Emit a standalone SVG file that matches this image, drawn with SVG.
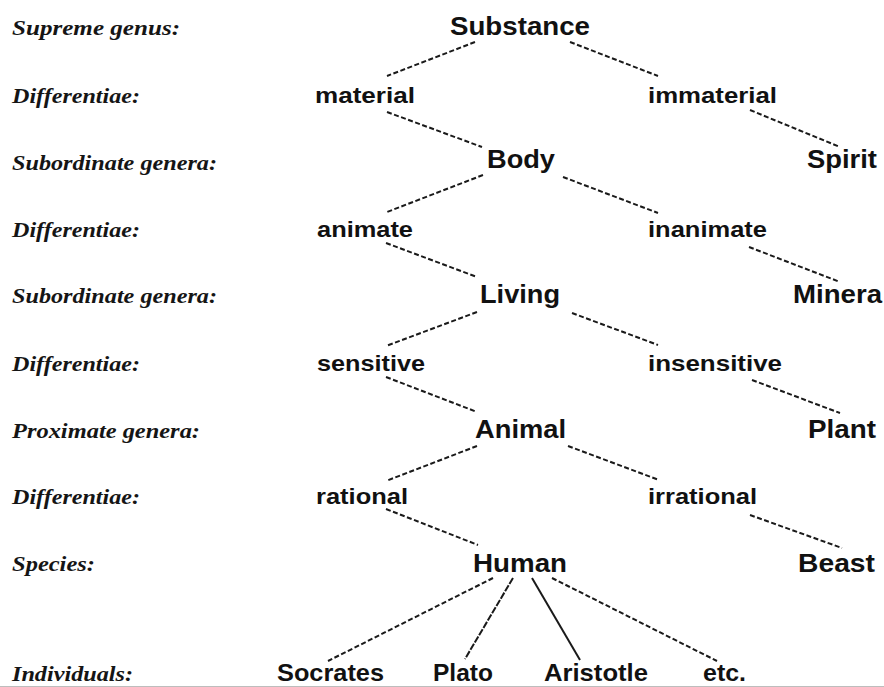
<svg xmlns="http://www.w3.org/2000/svg" width="884" height="687" viewBox="0 0 884 687">
<style>
  .lbl { font-family: "Liberation Serif", "Times New Roman", serif; font-style: italic; font-weight: bold; font-size: 22px; fill: #151515; }
  .gen { font-family: "Liberation Sans", Arial, sans-serif; font-weight: bold; font-size: 26px; fill: #111; }
  .dif { font-family: "Liberation Sans", Arial, sans-serif; font-weight: bold; font-size: 22px; fill: #111; }
  .ind { font-family: "Liberation Sans", Arial, sans-serif; font-weight: bold; font-size: 24px; fill: #111; }
  .edge { stroke: #1a1a1a; stroke-width: 2; fill: none; stroke-dasharray: 5 2.5; }
  .tight { stroke-dasharray: 7 1.5; }
  .solid { stroke-dasharray: none; }
</style>
<rect x="0" y="0" width="884" height="687" fill="#ffffff"/>
<line x1="0" y1="686.5" x2="884" y2="686.5" stroke="#bdbdbd" stroke-width="1"/>

<g id="levels">
  <text class="lbl" x="12" y="35" textLength="168" lengthAdjust="spacingAndGlyphs">Supreme genus:</text>
  <text class="lbl" x="12" y="103" textLength="128" lengthAdjust="spacingAndGlyphs">Differentiae:</text>
  <text class="lbl" x="12" y="170" textLength="205" lengthAdjust="spacingAndGlyphs">Subordinate genera:</text>
  <text class="lbl" x="12" y="237" textLength="128" lengthAdjust="spacingAndGlyphs">Differentiae:</text>
  <text class="lbl" x="12" y="303" textLength="205" lengthAdjust="spacingAndGlyphs">Subordinate genera:</text>
  <text class="lbl" x="12" y="371" textLength="128" lengthAdjust="spacingAndGlyphs">Differentiae:</text>
  <text class="lbl" x="12" y="438" textLength="188" lengthAdjust="spacingAndGlyphs">Proximate genera:</text>
  <text class="lbl" x="12" y="504" textLength="128" lengthAdjust="spacingAndGlyphs">Differentiae:</text>
  <text class="lbl" x="12" y="571" textLength="83" lengthAdjust="spacingAndGlyphs">Species:</text>
  <text class="lbl" x="12" y="681" textLength="121" lengthAdjust="spacingAndGlyphs">Individuals:</text>
</g>

<g id="connectors">
  <line class="edge" x1="475" y1="42" x2="387" y2="76"/>
  <line class="edge" x1="570" y1="42" x2="658" y2="76"/>
  <line class="edge" x1="387" y1="112" x2="482" y2="147"/>
  <line class="edge" x1="750" y1="110" x2="840" y2="147"/>
  <line class="edge" x1="483" y1="175" x2="387" y2="212"/>
  <line class="edge" x1="563" y1="177" x2="658" y2="213"/>
  <line class="edge" x1="386" y1="243" x2="477" y2="277"/>
  <line class="edge" x1="749" y1="247" x2="840" y2="282"/>
  <line class="edge" x1="477" y1="312" x2="386" y2="346"/>
  <line class="edge" x1="572" y1="313" x2="658" y2="345"/>
  <line class="edge" x1="386" y1="377" x2="477" y2="412"/>
  <line class="edge" x1="752" y1="380" x2="840" y2="413"/>
  <line class="edge" x1="477" y1="446" x2="386" y2="481"/>
  <line class="edge" x1="568" y1="446" x2="659" y2="480"/>
  <line class="edge" x1="386" y1="509" x2="478" y2="545"/>
  <line class="edge" x1="750" y1="515" x2="842" y2="548"/>
  <line class="edge" x1="493" y1="578" x2="328" y2="661"/>
  <line class="edge tight" x1="513" y1="578" x2="465" y2="659"/>
  <line class="edge solid" x1="532" y1="578" x2="580" y2="660"/>
  <line class="edge" x1="552" y1="578" x2="717" y2="661"/>
</g>

<g id="n-substance"><text class="gen" x="450" y="35" textLength="140" lengthAdjust="spacingAndGlyphs">Substance</text></g>
<g id="n-material"><text class="dif" x="315" y="103" textLength="100" lengthAdjust="spacingAndGlyphs">material</text></g>
<g id="n-immaterial"><text class="dif" x="648" y="103" textLength="129" lengthAdjust="spacingAndGlyphs">immaterial</text></g>
<g id="n-body"><text class="gen" x="487" y="168" textLength="68" lengthAdjust="spacingAndGlyphs">Body</text></g>
<g id="n-spirit"><text class="gen" x="807" y="168" textLength="70" lengthAdjust="spacingAndGlyphs">Spirit</text></g>
<g id="n-animate"><text class="dif" x="317" y="237" textLength="96" lengthAdjust="spacingAndGlyphs">animate</text></g>
<g id="n-inanimate"><text class="dif" x="648" y="237" textLength="119" lengthAdjust="spacingAndGlyphs">inanimate</text></g>
<g id="n-living"><text class="gen" x="480" y="303" textLength="80" lengthAdjust="spacingAndGlyphs">Living</text></g>
<g id="n-minera"><text class="gen" x="793" y="303" textLength="89" lengthAdjust="spacingAndGlyphs">Minera</text></g>
<g id="n-sensitive"><text class="dif" x="317" y="371" textLength="108" lengthAdjust="spacingAndGlyphs">sensitive</text></g>
<g id="n-insensitive"><text class="dif" x="648" y="371" textLength="134" lengthAdjust="spacingAndGlyphs">insensitive</text></g>
<g id="n-animal"><text class="gen" x="475" y="438" textLength="91" lengthAdjust="spacingAndGlyphs">Animal</text></g>
<g id="n-plant"><text class="gen" x="808" y="438" textLength="68" lengthAdjust="spacingAndGlyphs">Plant</text></g>
<g id="n-rational"><text class="dif" x="316" y="504" textLength="92" lengthAdjust="spacingAndGlyphs">rational</text></g>
<g id="n-irrational"><text class="dif" x="648" y="504" textLength="109" lengthAdjust="spacingAndGlyphs">irrational</text></g>
<g id="n-human"><text class="gen" x="473" y="572" textLength="94" lengthAdjust="spacingAndGlyphs">Human</text></g>
<g id="n-beast"><text class="gen" x="798" y="572" textLength="77" lengthAdjust="spacingAndGlyphs">Beast</text></g>
<g id="n-socrates"><text class="ind" x="277" y="681" textLength="107" lengthAdjust="spacingAndGlyphs">Socrates</text></g>
<g id="n-plato"><text class="ind" x="433" y="681" textLength="60" lengthAdjust="spacingAndGlyphs">Plato</text></g>
<g id="n-aristotle"><text class="ind" x="544" y="681" textLength="104" lengthAdjust="spacingAndGlyphs">Aristotle</text></g>
<g id="n-etc"><text class="ind" x="703" y="681" textLength="43" lengthAdjust="spacingAndGlyphs">etc.</text></g>
</svg>
